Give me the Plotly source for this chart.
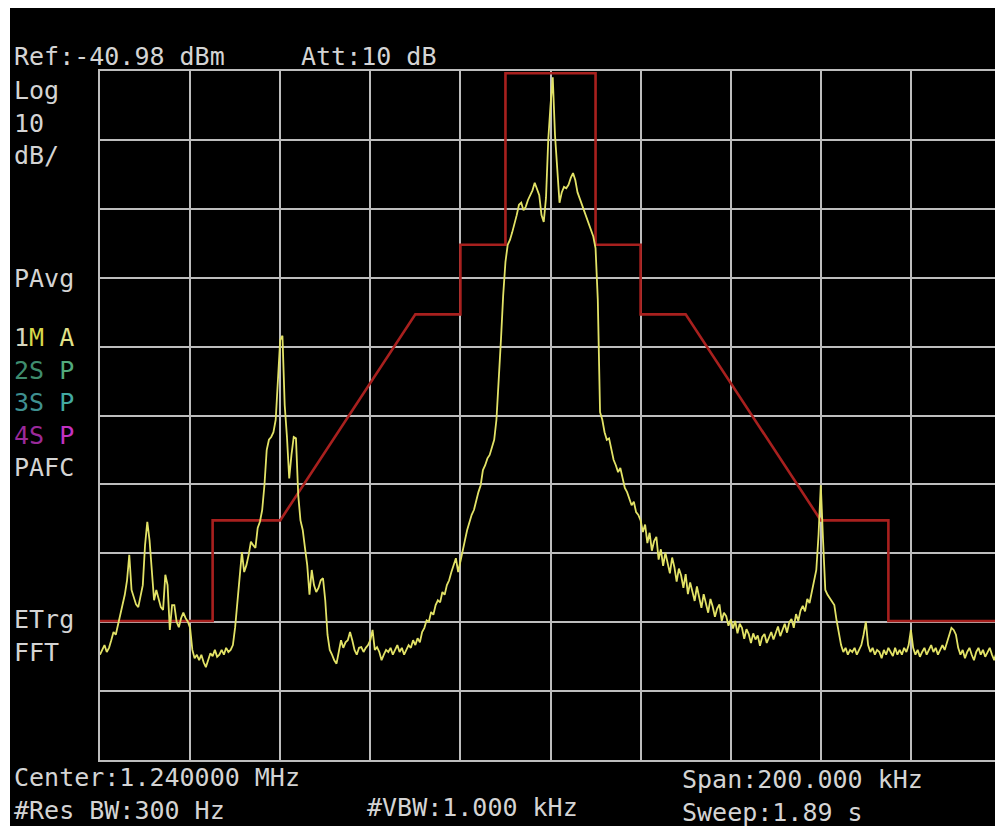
import plotly.graph_objects as go

REF_DBM = -40.98          # reference level (top graticule line)
DB_PER_DIV = 10
N_DIV = 10
SPAN_KHZ = 200.0          # x axis is offset from centre 1.240000 MHz, in kHz
FREQ_STEP_KHZ = 0.5       # sweep sample spacing used for the reading

trace_dbm = [
    -125.7, -125.0, -124.3, -125.3, -124.7, -123.6, -122.4, -122.8, -121.4, -119.9, -118.5, -117.0, -114.9, -111.2, -116.3, -117.5, -118.4, -118.8, -117.0, -115.6,
    -109.8, -106.4, -109.1, -113.1, -117.8, -116.3, -117.5, -118.8, -119.2, -114.1, -115.6, -122.1, -118.5, -118.5, -120.9, -121.7, -120.4, -119.6, -120.4, -120.9,
    -121.8, -125.0, -126.2, -125.7, -126.5, -125.7, -126.8, -127.5, -126.5, -125.5, -125.9, -125.0, -126.0, -125.7, -125.0, -125.7, -124.7, -125.3, -125.0, -124.3,
    -121.7, -117.8, -113.4, -110.8, -113.7, -112.7, -111.2, -109.3, -109.8, -110.2, -107.3, -106.4, -104.7, -101.1, -96.0, -94.5, -94.1, -93.4, -91.6, -86.6,
    -80.0, -79.4, -89.5, -94.1, -100.1, -96.7, -94.1, -94.3, -102.5, -106.2, -107.6, -110.2, -112.7, -117.0, -113.4, -115.6, -116.6, -116.0, -114.9, -114.6,
    -117.8, -122.8, -125.0, -125.7, -126.5, -127.0, -125.0, -123.6, -124.7, -123.9, -123.6, -122.4, -123.6, -125.0, -125.7, -124.7, -124.6, -125.3, -124.7, -124.3,
    -123.6, -122.1, -125.0, -124.6, -125.3, -126.5, -125.7, -125.0, -125.3, -124.7, -125.7, -125.0, -124.3, -125.3, -124.7, -125.7, -125.0, -124.3, -124.7, -123.6,
    -124.3, -123.3, -123.9, -122.4, -121.8, -120.7, -120.9, -119.5, -119.9, -118.5, -117.8, -118.1, -116.6, -117.0, -115.6, -114.9, -113.7, -112.7, -111.7, -113.7,
    -112.0, -110.5, -109.1, -107.6, -106.4, -105.4, -104.7, -103.3, -102.1, -101.1, -98.9, -98.2, -97.2, -96.7, -95.7, -94.5, -91.6, -86.6, -80.0, -73.5,
    -68.7, -66.2, -65.5, -64.4, -63.3, -61.9, -60.4, -60.1, -61.2, -60.7, -59.7, -59.1, -58.3, -57.2, -58.0, -59.0, -61.9, -62.9, -59.4, -51.0,
    -46.0, -41.9, -50.3, -56.1, -60.1, -58.6, -57.8, -58.0, -57.5, -56.5, -55.8, -56.8, -58.6, -59.5, -60.4, -61.2, -62.3, -63.1, -63.8, -65.0,
    -66.7, -74.2, -90.5, -91.6, -93.4, -94.5, -94.3, -96.0, -97.4, -98.2, -99.2, -98.6, -100.3, -101.5, -102.1, -103.0, -104.0, -103.5, -105.0, -105.4,
    -106.2, -107.9, -106.8, -109.5, -108.0, -110.6, -109.2, -108.6, -111.9, -110.4, -112.8, -110.9, -112.2, -113.9, -111.6, -113.0, -115.1, -113.2, -114.2, -116.0,
    -114.0, -116.9, -115.2, -116.4, -117.9, -115.8, -117.3, -118.9, -116.9, -118.4, -119.6, -117.6, -118.7, -120.2, -119.0, -118.4, -120.8, -119.6, -120.1, -121.5,
    -120.6, -121.9, -120.8, -122.6, -121.2, -121.8, -123.4, -122.0, -122.7, -124.0, -122.6, -123.5, -122.9, -124.4, -123.1, -122.7, -124.0, -123.2, -122.4, -123.5,
    -122.6, -121.6, -123.0, -122.0, -121.2, -122.5, -121.0, -120.5, -121.8, -119.8, -120.8, -119.3, -118.6, -119.4, -117.6, -118.2, -116.6, -115.4, -113.4, -108.3,
    -101.1, -109.1, -116.3, -117.0, -117.5, -117.8, -118.5, -120.7, -122.8, -124.3, -125.3, -124.7, -125.7, -125.0, -125.3, -124.7, -125.7, -125.0, -124.3, -122.8,
    -120.9, -124.3, -125.3, -124.7, -125.7, -125.0, -125.3, -126.2, -125.0, -125.7, -124.7, -125.3, -125.9, -124.7, -125.7, -125.0, -125.7, -124.7, -125.3, -124.3,
    -122.1, -124.7, -125.7, -125.0, -126.0, -125.3, -124.7, -125.7, -125.0, -124.3, -125.3, -124.7, -125.7, -125.0, -124.3, -125.0, -123.9, -122.8, -121.8, -122.1,
    -122.8, -124.7, -125.7, -125.0, -126.2, -125.3, -124.7, -125.7, -126.5, -125.3, -124.7, -125.7, -125.0, -126.0, -125.3, -124.7, -125.7, -126.5, -125.3, -125.9, -126.2,
]

mask_freq_khz = [-100, -75, -75, -60, -30, -20, -20, -10, -10, 10, 10, 20, 20, 30, 60, 75, 75, 100]
mask_dbm = [-120.8, -120.8, -106.2, -106.2, -76.3, -76.3, -66.2, -66.2, -41.3,
            -41.3, -66.2, -66.2, -76.3, -76.3, -106.2, -106.2, -120.8, -120.8]

header_left = "Ref:-40.98 dBm"
header_right = "Att:10 dB"
scale_labels = ["Log", "10", "dB/"]
avg_label = "PAvg"
trace_rows = [("1", "M", "A"), ("2S", "", "P"), ("3S", "", "P"), ("4S", "", "P")]
afc_label = "PAFC"
trig_labels = ["ETrg", "FFT"]
footer_left = ["Center:1.240000 MHz", "#Res BW:300 Hz"]
footer_mid = "#VBW:1.000 kHz"
footer_right = ["Span:200.000 kHz", "Sweep:1.89 s"]

# ---------------- layout geometry ----------------
PAGE_OFF = 8                      # default body margin of the html page
FIG_W, FIG_H = 995, 818
PL, PR, PT, PB = 100, 1001, 71, 760   # plot area in page pixels
ML, MT = PL - PAGE_OFF, PT - PAGE_OFF
MR = FIG_W - (PR - PAGE_OFF)
MB = FIG_H - (PB - PAGE_OFF)
PW, PH = PR - PL, PB - PT


def pxx(xp):
    return (xp - PL) / PW


def pxy(yp):
    return 1 - (yp - PT) / PH


x_lo = -SPAN_KHZ / 2
freq_khz = [x_lo + FREQ_STEP_KHZ * i for i in range(len(trace_dbm))]

fig = go.Figure()
fig.add_trace(go.Scatter(x=mask_freq_khz, y=mask_dbm, mode="lines",
                         line=dict(color="#a8201e", width=2.6), hoverinfo="skip"))
fig.add_trace(go.Scatter(x=freq_khz, y=trace_dbm, mode="lines",
                         line=dict(color="#e2e266", width=1.8), hoverinfo="skip"))

GRID = "#bdbdbd"
fig.update_xaxes(range=[x_lo, -x_lo], tick0=x_lo, dtick=SPAN_KHZ / N_DIV,
                 showgrid=True, gridcolor=GRID, gridwidth=2, zeroline=False,
                 showticklabels=False, ticks="", showline=True, mirror=True,
                 linecolor=GRID, linewidth=2)
fig.update_yaxes(range=[REF_DBM - N_DIV * DB_PER_DIV, REF_DBM], tick0=REF_DBM,
                 dtick=DB_PER_DIV, showgrid=True, gridcolor=GRID, gridwidth=2,
                 zeroline=False, showticklabels=False, ticks="", showline=True,
                 mirror=True, linecolor=GRID, linewidth=2)

FONT = "DejaVu Sans Mono"
TXT = "#d4d4d4"
FS = 25


def label(text, xp, yp, color=TXT):
    fig.add_annotation(text=text, x=pxx(xp), y=pxy(yp), xref="paper", yref="paper",
                       xanchor="left", yanchor="middle", align="left", showarrow=False,
                       font=dict(family=FONT, size=FS, color=color), borderpad=0)


def span(t, c):
    return f"<span style='color:{c}'>{t}</span>"


row_colors = [("#d8d8c0", "#d8d84a", "#e2e28a"),
              ("#3f8c6e", "", "#52aa7c"),
              ("#3f9090", "", "#42aaa2"),
              ("#9a2a9a", "", "#c232c2")]
block_lines = []
for (a, b, c), (ca, cb, cc) in zip(trace_rows, row_colors):
    s = span(a, ca) + (span(b, cb) if b else "") + " " + span(c, cc)
    block_lines.append(s)
block_lines.append(afc_label)

label(header_left, 13, 56)
label(header_right, 300, 56)
label("<br>".join(scale_labels), 13, 123)
label(avg_label, 13, 278)
label("<br>".join(block_lines), 13, 402)
label("<br>".join(trig_labels), 13, 636)
label("<br>".join(footer_left), 13, 794)
label(footer_mid, 366, 808)
label("<br>".join(footer_right), 681, 796)

# white strip on the far left of the photograph
fig.add_shape(type="rect", xref="paper", yref="paper",
              x0=pxx(PAGE_OFF), x1=pxx(10), y0=pxy(900), y1=pxy(0),
              fillcolor="white", line=dict(width=0), layer="above")

fig.update_layout(width=FIG_W, height=FIG_H,
                  margin=dict(l=ML, r=MR, t=MT, b=MB, pad=0),
                  paper_bgcolor="black", plot_bgcolor="black",
                  showlegend=False, template=None)

fig.write_html("out.html")
